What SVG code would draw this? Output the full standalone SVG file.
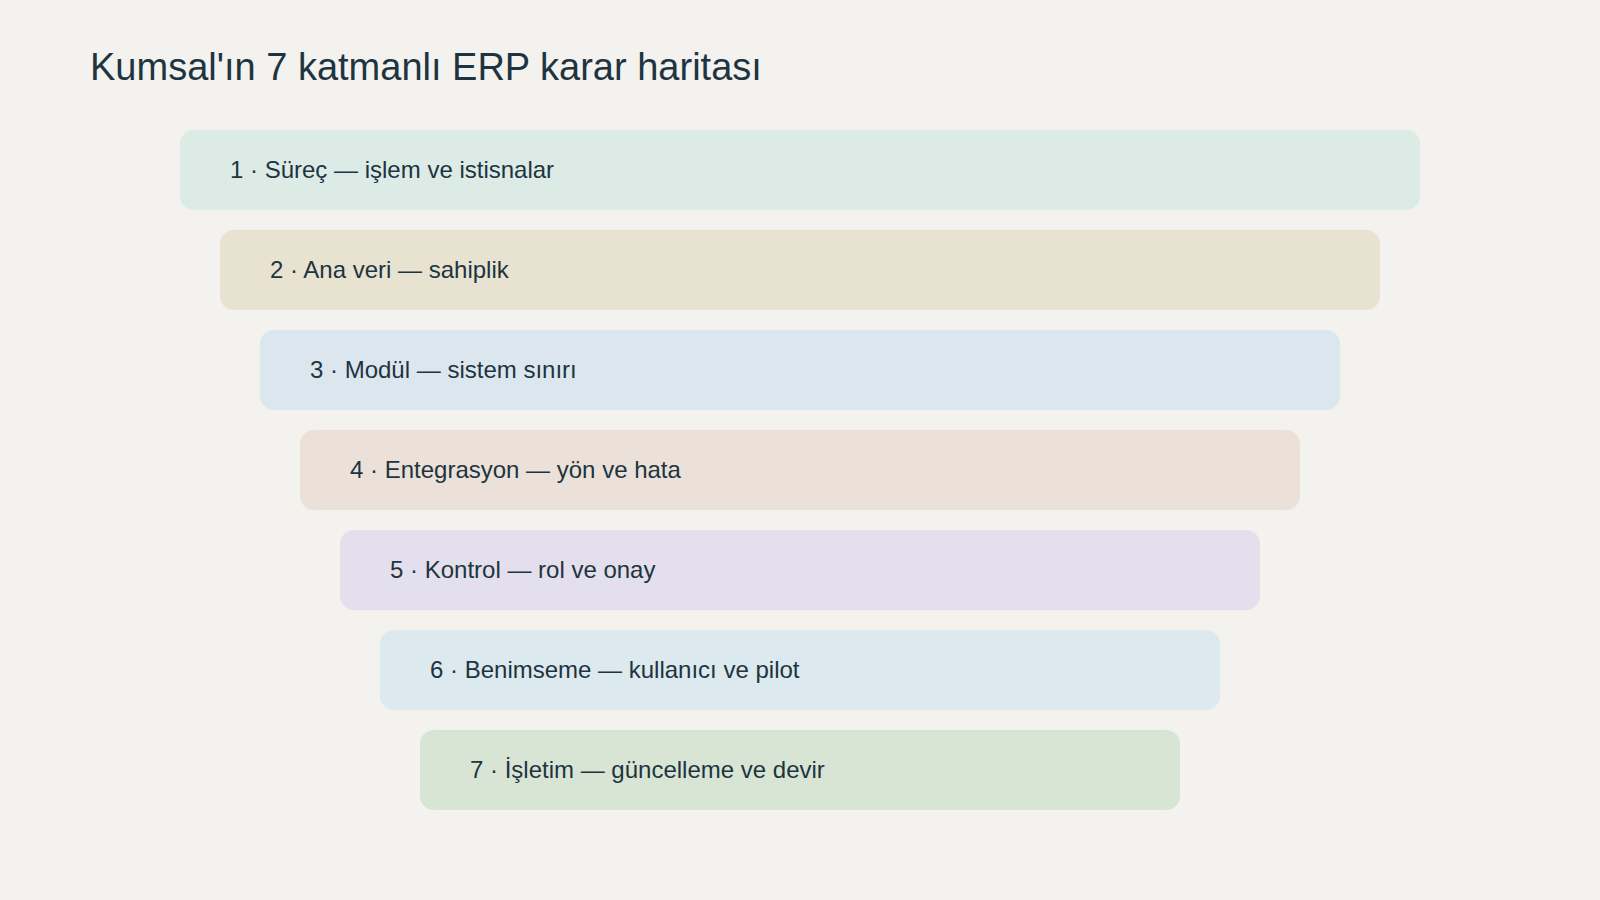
<svg xmlns="http://www.w3.org/2000/svg" width="1600" height="900" viewBox="0 0 1600 900">
<style>
.bg{fill:#f3f2ee}
.title{font-family:"Liberation Sans",Arial,sans-serif;font-size:38px;fill:#1e3440}
.layer rect{rx:14px;ry:14px}
.lbl{font-family:"Liberation Sans",Arial,sans-serif;font-size:24px;fill:#1e3440}
</style>
<rect class="bg" x="0" y="0" width="1600" height="900"/>
<text class="title" x="90" y="80">Kumsal'ın 7 katmanlı ERP karar haritası</text>
<g id="layer1" class="layer"><rect x="180" y="130" width="1240" height="80" rx="14" fill="#dcebe6"/><text class="lbl" x="230" y="178">1 · Süreç — işlem ve istisnalar</text></g>
<g id="layer2" class="layer"><rect x="220" y="230" width="1160" height="80" rx="14" fill="#e8e2d0"/><text class="lbl" x="270" y="278">2 · Ana veri — sahiplik</text></g>
<g id="layer3" class="layer"><rect x="260" y="330" width="1080" height="80" rx="14" fill="#dce6ee"/><text class="lbl" x="310" y="378">3 · Modül — sistem sınırı</text></g>
<g id="layer4" class="layer"><rect x="300" y="430" width="1000" height="80" rx="14" fill="#ebe1d8"/><text class="lbl" x="350" y="478">4 · Entegrasyon — yön ve hata</text></g>
<g id="layer5" class="layer"><rect x="340" y="530" width="920" height="80" rx="14" fill="#e4dfec"/><text class="lbl" x="390" y="578">5 · Kontrol — rol ve onay</text></g>
<g id="layer6" class="layer"><rect x="380" y="630" width="840" height="80" rx="14" fill="#dce9ee"/><text class="lbl" x="430" y="678">6 · Benimseme — kullanıcı ve pilot</text></g>
<g id="layer7" class="layer"><rect x="420" y="730" width="760" height="80" rx="14" fill="#d9e5d4"/><text class="lbl" x="470" y="778">7 · İşletim — güncelleme ve devir</text></g>
<g id="connectors"></g>
</svg>
